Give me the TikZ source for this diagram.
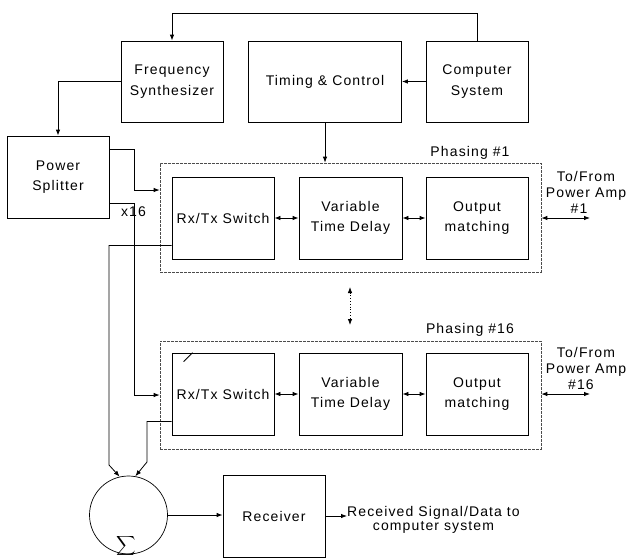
\documentclass[tikz,border=0pt]{standalone}
\usepackage{fontspec}
\setmainfont{Liberation Sans}[LetterSpace=8]
\usetikzlibrary{arrows.meta,calc}
\begin{document}
\begin{tikzpicture}[x=1pt,y=-1pt,
  font=\fontsize{14}{20.5}\selectfont,
  box/.style={draw, line width=0.8pt, minimum width=102pt, minimum height=81pt, inner sep=0pt, align=center},
  grp/.style={draw=black!70, line width=0.7pt, dash pattern=on 3pt off 1pt, minimum width=381pt, inner sep=0pt},
  arr/.style={line width=0.8pt, -{Latex[length=6pt,width=4.5pt]}},
  darr/.style={line width=0.8pt, {Latex[length=6pt,width=4.5pt]}-{Latex[length=6pt,width=4.5pt]}},
  lbl/.style={inner sep=0pt, align=center}]
\useasboundingbox (0,0) rectangle (630,558);

% top row
\node[box] (fs) at (172,81.5) {Frequency\\Synthesizer};
\node[box, minimum width=153pt] (tc) at (325,81.5) {Timing \& Control};
\node[box] (cs) at (477,81.5) {Computer\\System};
\node[box, minimum height=82pt] (ps) at (58,177) {Power\\Splitter};

% phasing groups
\node[grp, minimum height=109pt] (ph1) at (350.5,217.5) {};
\node[grp, minimum height=108pt] (ph16) at (350.5,395) {};
\node[lbl] (ph1l) at (470,153) {Phasing \#1};
\node[lbl] (ph16l) at (470,330) {Phasing \#16};

\node[box, minimum height=82pt] (rx1) at (223,218) {Rx/Tx Switch};
\node[box, minimum height=82pt, minimum width=103pt] (vd1) at (350.5,218) {Variable\\Time Delay};
\node[box, minimum height=82pt] (om1) at (477,218) {Output\\matching};

\node[box, minimum height=82pt] (rx16) at (223,394) {Rx/Tx Switch};
\node[box, minimum height=82pt, minimum width=103pt] (vd16) at (350.5,394) {Variable\\Time Delay};
\node[box, minimum height=82pt] (om16) at (477,394) {Output\\matching};

\node[lbl, font=\fontsize{14}{16}\selectfont] (pa1) at (586,192) {To/From\\Power Amp\\\#1\hspace*{14pt}};
\node[lbl, font=\fontsize{14}{16}\selectfont] (pa16) at (586,368) {To/From\\Power Amp\\\#16\hspace*{10pt}};

% sum and receiver
\node[draw, circle, line width=0.7pt, minimum size=78pt, inner sep=0pt] (sum) at (128.5,515) {};
\node[inner sep=0pt] (sig) at (126,546) {\scalebox{1.35}{$\displaystyle\sum$}};
\node[draw, line width=0.8pt, minimum width=102pt, minimum height=82pt, inner sep=0pt] (rcv) at (274,516) {Receiver};
\node[lbl, anchor=west, font=\fontsize{14}{14}\selectfont] (out) at (347,520) {Received Signal/Data to\\computer system};
\node[lbl] (x16) at (133.5,212) {x16};

% coordinates
\coordinate (top) at (0,13);
\coordinate (d1) at (350,287);
\coordinate (d2) at (350,325);
\coordinate (pa1e) at (590,218);
\coordinate (pa16e) at (590,394);

% connectors
\draw[arr] (cs.north) -- (cs.north |- top) -| (fs.north);
\draw[arr] (cs.west) -- (tc.east);
\draw[arr] (tc.south) -- (tc.south |- ph1.north);
\draw[arr] (fs.west) -| (ps.north);
\draw[arr] ($(ps.north east)+(0,14)$) -- ++(25,0) |- ($(ph1.west)+(0,-27.5)$);
\draw[arr] ($(ps.south east)+(0,-15)$) -- ++(25,0) |- (ph16.west);

\draw[darr] (rx1.east) -- (vd1.west);
\draw[darr] (vd1.east) -- (om1.west);
\draw[darr] (ph1.east |- om1) -- (pa1e);
\draw[darr] (rx16.east) -- (vd16.west);
\draw[darr] (vd16.east) -- (om16.west);
\draw[darr] (ph16.east |- om16) -- (pa16e);

\draw[darr, dotted] (d1) -- (d2);

\draw[line width=0.8pt] ($(rx16.north west)+(12,9)$) -- ($(rx16.north west)+(21,0)$);

\draw[arr] ($(rx1.south west)+(0,-14)$) -| (109,465) -- (sum.103);
\draw[arr] ($(rx16.south west)+(0,-14)$) -| (147,462) -- (sum.80);

\draw[arr] (sum.east) -- (sum.east -| rcv.west);
\draw[arr] (rcv.east) -- (rcv.east -| out.west);
\end{tikzpicture}
\end{document}
